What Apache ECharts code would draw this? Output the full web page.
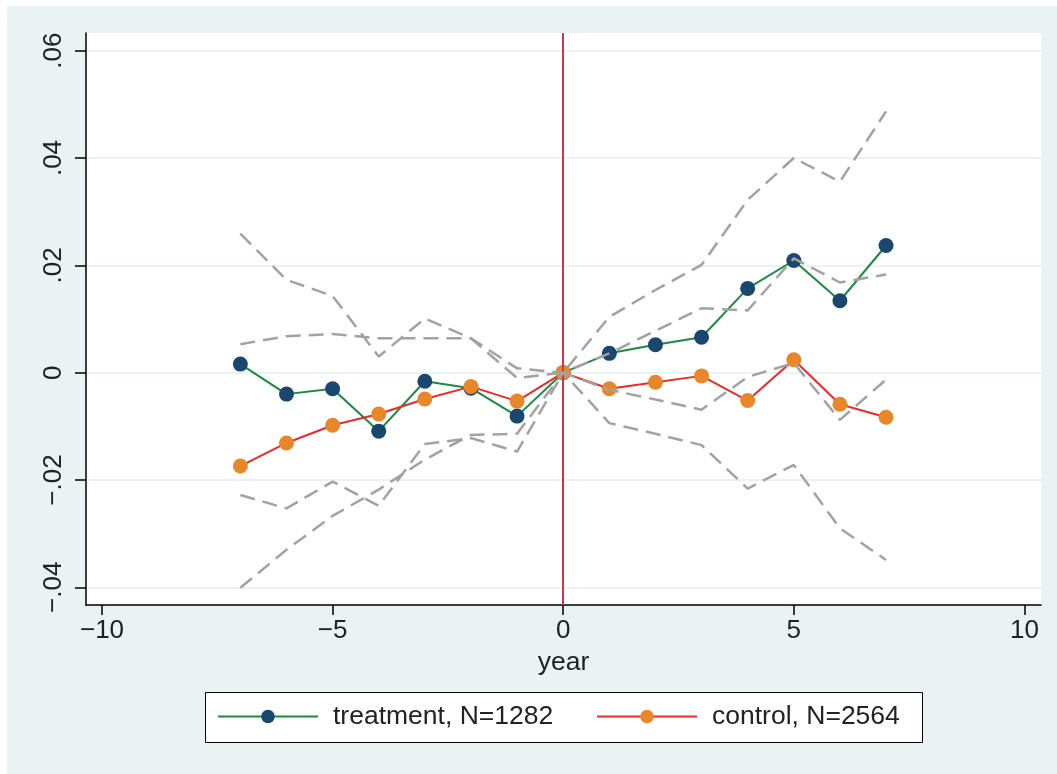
<!DOCTYPE html>
<html>
<head>
<meta charset="utf-8">
<script src="https://cdn.jsdelivr.net/npm/echarts@6/dist/echarts.min.js"></script>
<style>
html,body{margin:0;padding:0;background:#fff;}
#chart{width:1057px;height:774px;}
</style>
</head>
<body>
<div id="chart"></div>
<script>
// ---- data ----
var years = [-7, -6, -5, -4, -3, -2, -1, 0, 1, 2, 3, 4, 5, 6, 7];
var treatment = [0.0016, -0.0040, -0.0030, -0.0109, -0.0016, -0.0029, -0.0081, 0, 0.0036, 0.0052, 0.0066, 0.0157, 0.0209, 0.0134, 0.0237];
var treatUpper = [0.0259, 0.0173, 0.0143, 0.0030, 0.0101, 0.0064, -0.0010, 0, 0.0104, 0.0154, 0.0201, 0.0322, 0.0400, 0.0356, 0.0487];
var treatLower = [-0.0228, -0.0253, -0.0203, -0.0248, -0.0133, -0.0122, -0.0147, 0, -0.0032, -0.0050, -0.0069, -0.0008, 0.0018, -0.0088, -0.0013];
var control = [-0.0174, -0.0131, -0.0098, -0.0077, -0.0049, -0.0026, -0.0053, 0, -0.0030, -0.0018, -0.0006, -0.0052, 0.0024, -0.0059, -0.0083];
var ctrlUpper = [0.0053, 0.0068, 0.0072, 0.0064, 0.0064, 0.0064, 0.0008, 0, 0.0036, 0.0078, 0.0120, 0.0116, 0.0213, 0.0168, 0.0183];
var ctrlLower = [-0.0401, -0.0330, -0.0267, -0.0218, -0.0162, -0.0116, -0.0114, 0, -0.0094, -0.0114, -0.0135, -0.0216, -0.0172, -0.0290, -0.0349];
var seriesNames = ['treatment, N=1282', 'control, N=2564'];
var xTickValues = [-10, -5, 0, 5, 10];
var xTickLabels = ['\u221210', '\u22125', '0', '5', '10'];
var yTickValues = [-0.04, -0.02, 0, 0.02, 0.04, 0.06];
var yTickLabels = ['\u2212.04', '\u2212.02', '0', '.02', '.04', '.06'];
var eventYear = [0];
var xTitle = 'year';

// ---- helpers ----
function pairs(xs, ys) { return xs.map(function (x, i) { return [x, ys[i]]; }); }
function labelFor(values, labels) {
  return function (v) {
    for (var i = 0; i < values.length; i++) { if (Math.abs(values[i] - v) < 1e-9) return labels[i]; }
    return '';
  };
}

var FONT = 'Liberation Sans, Arial, Helvetica, sans-serif';
var chart = echarts.init(document.getElementById('chart'), null, {renderer: 'canvas'});

function ciSeries(data) {
  return {
    type: 'line', data: pairs(years, data), symbol: 'none', silent: true, z: 5,
    lineStyle: {color: '#A2A2A2', width: 2.5, type: [15, 8]}
  };
}

var option = {
  animation: false,
  backgroundColor: '#ffffff',
  graphic: [
    {type: 'rect', left: 7, top: 6, shape: {width: 1050, height: 768}, style: {fill: '#EAF2F3'}, z: -100, silent: true},
    {type: 'rect', left: 205, top: 692, shape: {width: 717, height: 50}, style: {fill: '#ffffff', stroke: '#000000', lineWidth: 1}, z: -50, silent: true}
  ],
  grid: {left: 86, top: 33, right: 16, bottom: 169, show: true, backgroundColor: '#ffffff', borderWidth: 0, containLabel: false},
  xAxis: {
    type: 'value', min: -10.347, max: 10.36,
    name: xTitle, nameLocation: 'middle', nameGap: 42,
    nameTextStyle: {fontFamily: FONT, fontSize: 26.5, color: '#222'},
    axisLine: {show: true, onZero: false, lineStyle: {color: '#000', width: 1.5}},
    axisTick: {show: true, length: 10, customValues: xTickValues, lineStyle: {color: '#000', width: 1.5}},
    axisLabel: {customValues: xTickValues, formatter: labelFor(xTickValues, xTickLabels), fontFamily: FONT, fontSize: 26, color: '#222', margin: 13},
    splitLine: {show: false}
  },
  yAxis: {
    type: 'value', min: -0.0433, max: 0.0633,
    axisLine: {show: true, onZero: false, lineStyle: {color: '#000', width: 1.5}},
    axisTick: {show: true, length: 11, customValues: yTickValues, lineStyle: {color: '#000', width: 1.5}},
    axisLabel: {customValues: yTickValues, formatter: labelFor(yTickValues, yTickLabels), rotate: 90, fontFamily: FONT, fontSize: 26, color: '#222', margin: 19},
    splitLine: {show: true, lineStyle: {color: '#EAF2F3', width: 2}}
  },
  legend: [
    {data: [seriesNames[0]], left: 217, top: 703, padding: 0, itemWidth: 100, itemHeight: 17, itemGap: 0,
     textStyle: {fontFamily: FONT, fontSize: 26.5, color: '#222', padding: [0, 0, 0, 10]}, selectedMode: false},
    {data: [seriesNames[1]], left: 596, top: 703, padding: 0, itemWidth: 100, itemHeight: 17, itemGap: 0,
     textStyle: {fontFamily: FONT, fontSize: 26.5, color: '#222', padding: [0, 0, 0, 10]}, selectedMode: false}
  ],
  series: [
    {
      name: seriesNames[0], type: 'line', data: pairs(years, treatment), z: 3,
      symbol: 'circle', symbolSize: 15,
      lineStyle: {color: '#1B8A40', width: 2},
      itemStyle: {color: '#1A476F', borderWidth: 0},
      markLine: {
        silent: true, symbol: ['none', 'none'], label: {show: false},
        lineStyle: {color: '#C23A50', width: 2, type: 'solid'},
        data: eventYear.map(function (x) { return {xAxis: x}; })
      }
    },
    {
      name: seriesNames[1], type: 'line', data: pairs(years, control), z: 4,
      symbol: 'circle', symbolSize: 15,
      lineStyle: {color: '#EC2A2A', width: 2},
      itemStyle: {color: '#E8872A', borderWidth: 0}
    },
    ciSeries(treatUpper), ciSeries(treatLower), ciSeries(ctrlUpper), ciSeries(ctrlLower)
  ]
};
chart.setOption(option);
</script>
</body>
</html>
